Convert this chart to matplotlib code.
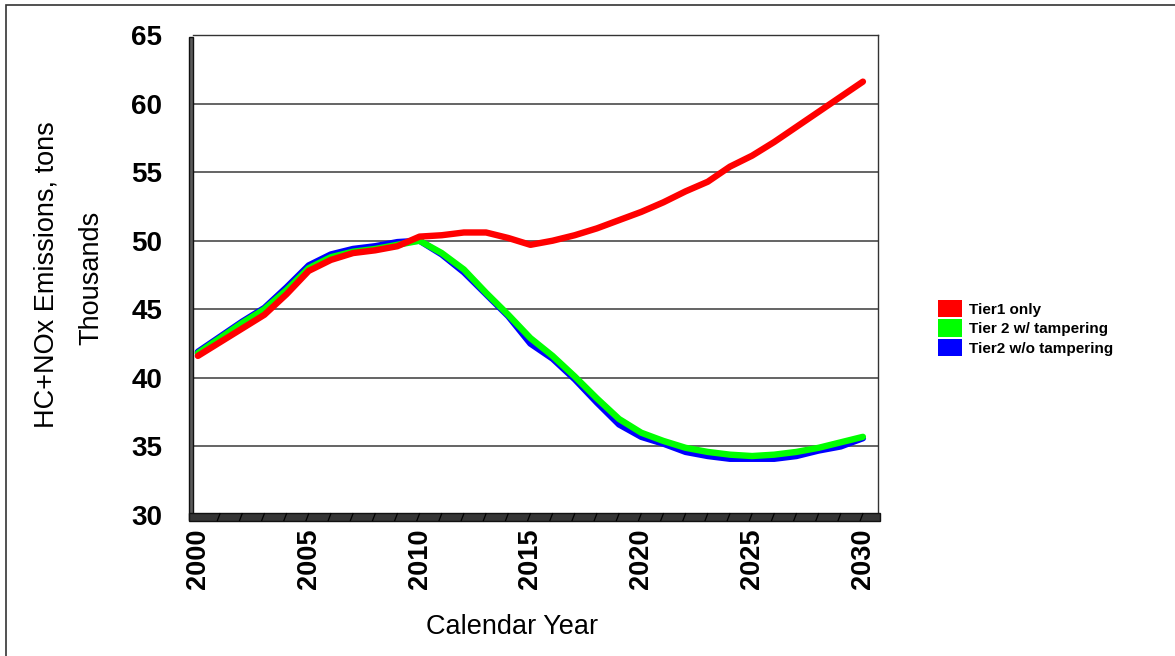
import numpy as np
import matplotlib
matplotlib.use("Agg")
import matplotlib.pyplot as plt
from matplotlib.patches import Patch, Rectangle

plt.rcParams["font.family"] = ["Liberation Sans", "DejaVu Sans"]

# Data (thousand tons HC+NOx)
YEARS = list(range(2000, 2031))
TIER1_ONLY = [41.6, 42.6, 43.6, 44.6, 46.1, 47.8, 48.6, 49.1, 49.3, 49.6, 50.3,
              50.4, 50.6, 50.6, 50.2, 49.7, 50.0, 50.4, 50.9, 51.5, 52.1,
              52.8, 53.6, 54.3, 55.4, 56.2, 57.2, 58.3, 59.4, 60.5, 61.6]
TIER2_TAMPER = [41.8, 42.9, 44.0, 45.0, 46.4, 48.0, 48.8, 49.2, 49.4, 49.7, 50.0,
                49.1, 47.9, 46.2, 44.6, 42.9, 41.6, 40.1, 38.5, 37.0, 36.0,
                35.4, 34.9, 34.6, 34.4, 34.3, 34.4, 34.6, 34.9, 35.3, 35.7]
TIER2_NO_TAMPER = [41.9, 43.0, 44.1, 45.1, 46.6, 48.2, 49.0, 49.4, 49.6, 49.9, 50.0,
                   49.0, 47.7, 46.1, 44.5, 42.5, 41.4, 39.9, 38.2, 36.6, 35.7,
                   35.2, 34.6, 34.3, 34.1, 34.1, 34.1, 34.3, 34.7, 35.0, 35.6]
SERIES_NAMES = ["Tier1 only", "Tier 2 w/ tampering", "Tier2 w/o tampering"]
SERIES_COLORS = ["#FF0000", "#00FF00", "#0000FF"]
Y_TICKS = [30, 35, 40, 45, 50, 55, 60, 65]
X_TICKS = [2000, 2005, 2010, 2015, 2020, 2025, 2030]

W, H = 1175, 656
fig = plt.figure(figsize=(W / 100, H / 100), dpi=100)

# outer frame (left and top edges visible)
fig.patches.append(Rectangle((6 / W, -0.1), (1175 - 6) / W + 0.1, 1.1 - 5 / H,
                             transform=fig.transFigure, fill=False,
                             edgecolor="#333333", lw=1.2))

ax = fig.add_axes([193 / W, 1 - 515 / H, (878 - 193) / W, (515 - 35) / H])

# series: blue underneath, green, then red on top
ax.plot(YEARS, TIER2_NO_TAMPER, color=SERIES_COLORS[2], lw=4.6,
        solid_capstyle="round", solid_joinstyle="round", zorder=3)
ax.plot(YEARS, TIER2_TAMPER, color=SERIES_COLORS[1], lw=4.6,
        solid_capstyle="round", solid_joinstyle="round", zorder=4)
ax.plot(YEARS, TIER1_ONLY, color=SERIES_COLORS[0], lw=4.6,
        solid_capstyle="round", solid_joinstyle="round", zorder=5)

ax.set_xlim(1999.78, 2030.68)
ax.set_ylim(30, 65)
ax.set_yticks(Y_TICKS)
ax.set_yticklabels([str(v) for v in Y_TICKS], fontsize=20, fontweight="bold")
ax.set_xticks(X_TICKS)
ax.set_xticklabels([str(v) for v in X_TICKS], fontsize=19.5, fontweight="bold",
                   rotation=90)
ax.tick_params(axis="y", length=0, pad=22)
ax.tick_params(axis="x", which="major", length=0, pad=10)

ax.grid(True, axis="y", color="#3a3a3a", lw=1.1)
ax.set_axisbelow(True)

for side in ["top", "right"]:
    ax.spines[side].set_color("#333333")
    ax.spines[side].set_linewidth(1.0)
ax.spines["left"].set_visible(False)
ax.spines["bottom"].set_visible(False)

# 3D-style left wall and floor
ax.add_patch(Rectangle((-0.006, -0.01), 0.006, 1.005, transform=ax.transAxes,
                       facecolor="#5a5a5a", edgecolor="#111111", lw=1.0,
                       clip_on=False, zorder=6))
ax.add_patch(Rectangle((-0.006, -0.0125), 1.009, 0.0165, transform=ax.transAxes,
                       facecolor="#353535", edgecolor="#111111", lw=1.0,
                       clip_on=False, zorder=6))
for yr in YEARS[1:]:
    ax.plot([yr - 0.12, yr], [29.6, 30.1], color="#000000", lw=0.9,
            clip_on=False, zorder=7)

# axis titles
fig.text(47 / W, 1 - 275 / H, "HC+NOx Emissions, tons", rotation=90,
         ha="center", va="center", fontsize=19.5)
fig.text(91 / W, 1 - 278 / H, "Thousands", rotation=90,
         ha="center", va="center", fontsize=19.5)
fig.text(512 / W, 1 - 627 / H, "Calendar Year", ha="center", va="center",
         fontsize=19.5)

handles = [Patch(facecolor=c, edgecolor="none") for c in SERIES_COLORS]
fig.legend(handles, SERIES_NAMES, loc="center left",
           bbox_to_anchor=(938 / W, 1 - 328 / H), frameon=False,
           prop={"size": 11, "weight": "bold"}, handlelength=1.6,
           handleheight=1.35, handletextpad=0.45, labelspacing=0.15,
           borderaxespad=0, borderpad=0)

fig.savefig("out.png", dpi=100)
